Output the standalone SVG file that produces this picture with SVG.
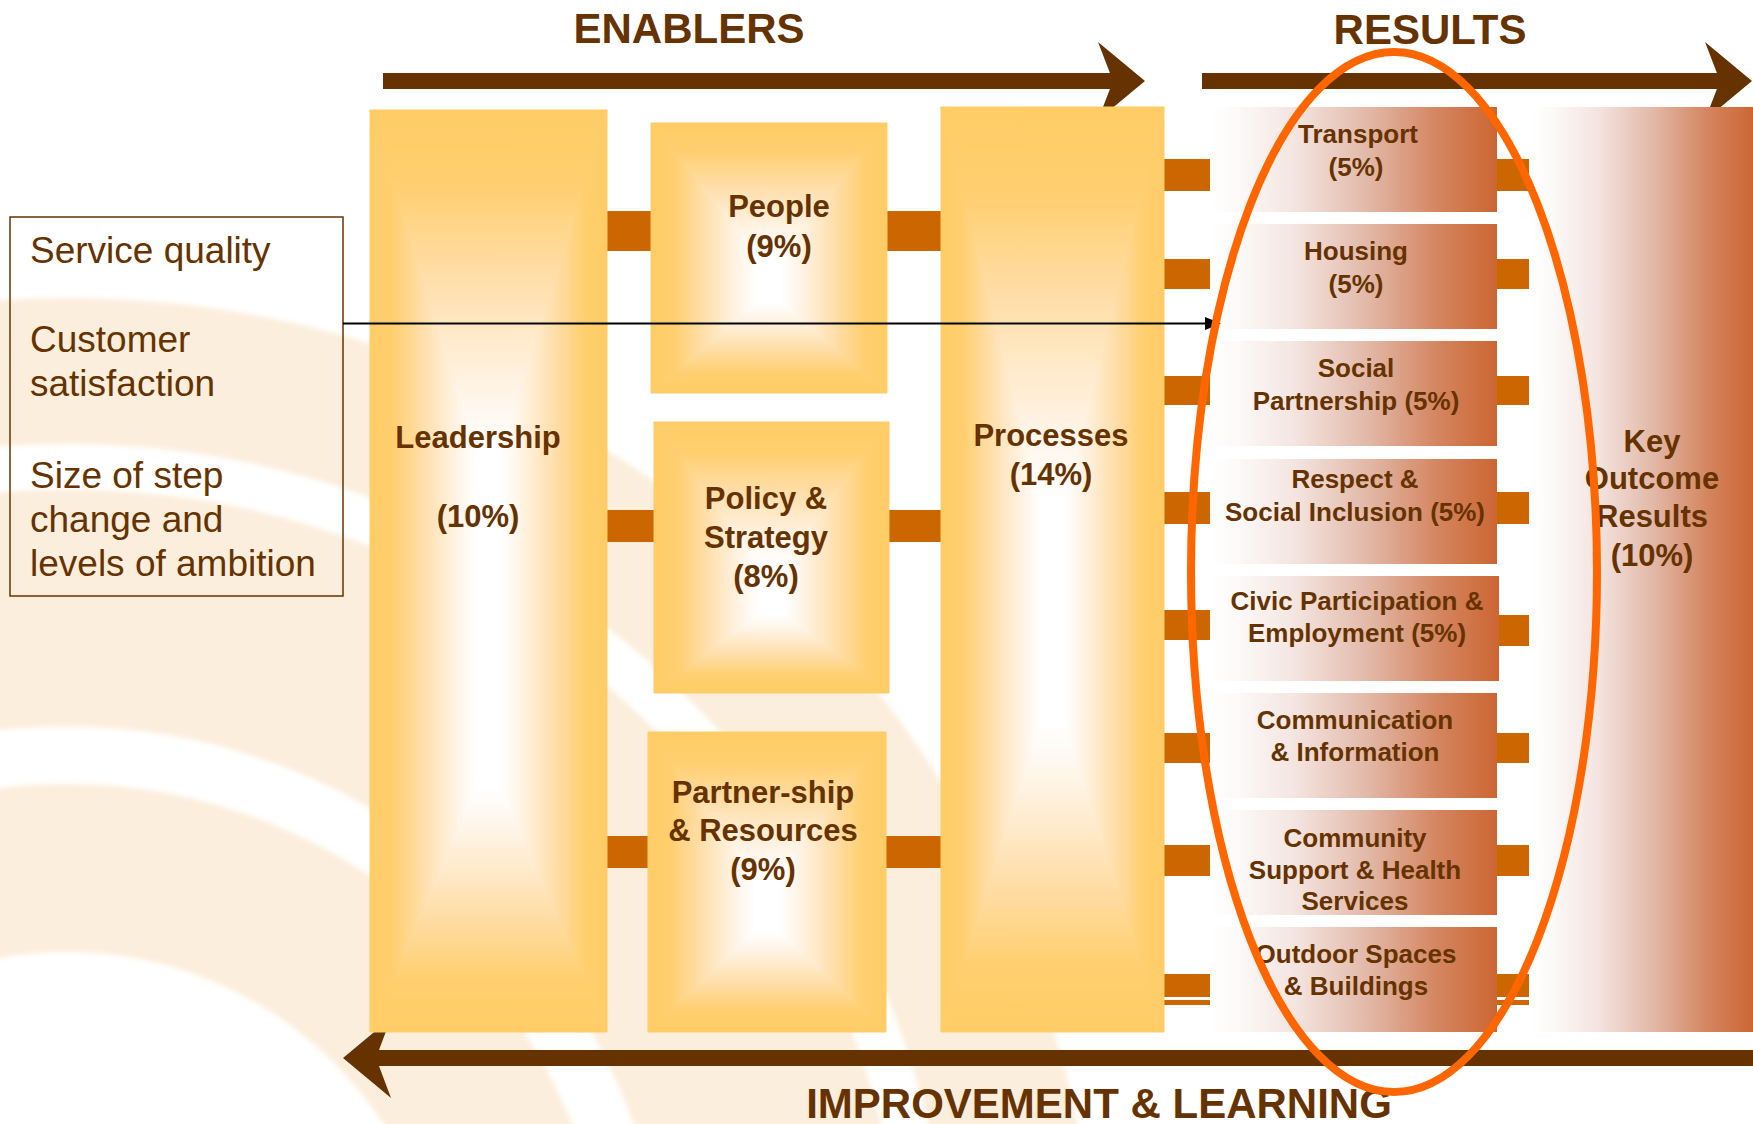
<svg xmlns="http://www.w3.org/2000/svg" width="1753" height="1124" viewBox="0 0 1753 1124">
  <defs>
    <style>
      .lbl { font-family: "Liberation Sans", Arial, sans-serif; font-weight: bold; fill: #663300; text-anchor: middle; }
      .big { font-size: 31px; }
      .res { font-size: 26px; }
      .hdr { font-size: 42px; }
      .note { font-family: "Liberation Sans", Arial, sans-serif; font-size: 37px; fill: #663300; }
      .conn { fill: #CC6600; }
      .bar { fill: #663300; }
      .ring { fill: none; stroke: #FCEEDC; }
    </style>
    <!-- rectangular glow towards a central core, one gradient per facing side -->
    <linearGradient id="gL" x1="0" y1="0" x2="1" y2="0">
      <stop offset="0" stop-color="#FFCC66"/>
      <stop offset="0.2" stop-color="#FFCF70"/>
      <stop offset="0.4" stop-color="#FFDBA0"/>
      <stop offset="0.6" stop-color="#FFEACB"/>
      <stop offset="0.78" stop-color="#FFF7EE"/>
      <stop offset="0.9" stop-color="#FFFFFF"/>
      <stop offset="1" stop-color="#FFFFFF"/>
    </linearGradient>
    <linearGradient id="gR" href="#gL" x1="1" y1="0" x2="0" y2="0"/>
    <linearGradient id="gT" href="#gL" x1="0" y1="0" x2="0" y2="1"/>
    <linearGradient id="gB" href="#gL" x1="0" y1="1" x2="0" y2="0"/>
    <!-- results fill: white fading into copper -->
    <linearGradient id="gRes" x1="0" y1="0" x2="1" y2="0">
      <stop offset="0" stop-color="#FFFFFF"/>
      <stop offset="0.1" stop-color="#FCF9F8"/>
      <stop offset="0.3" stop-color="#F4E4DF"/>
      <stop offset="0.55" stop-color="#E2B8A8"/>
      <stop offset="0.8" stop-color="#D4845E"/>
      <stop offset="1" stop-color="#CC6633"/>
    </linearGradient>
    <filter id="soft" x="-5%" y="-5%" width="110%" height="110%">
      <feGaussianBlur stdDeviation="2.5"/>
    </filter>
  </defs>

  <rect width="1753" height="1124" fill="#FFFFFF"/>

  <!-- watermark rings in the lower left -->
  <g id="background" filter="url(#soft)">
    <circle class="ring" cx="67" cy="1329" r="461" stroke-width="168"/>
    <circle class="ring" cx="67" cy="1329" r="721" stroke-width="237"/>
    <circle class="ring" cx="67" cy="1329" r="958" stroke-width="146"/>
  </g>

  <!-- headings and flow arrows -->
  <g id="headers">
    <text class="lbl hdr" x="689" y="43">ENABLERS</text>
    <text class="lbl hdr" x="1430" y="44">RESULTS</text>
    <text class="lbl hdr" x="1099" y="1118">IMPROVEMENT &amp; LEARNING</text>
  </g>
  <g id="flow-arrows">
    <rect class="bar" x="383" y="73" width="732" height="16"/>
    <polygon class="bar" points="1145,81 1098,42 1113,81 1098,120"/>
    <rect class="bar" x="1202" y="73" width="520" height="16"/>
    <polygon class="bar" points="1752,81 1705,42 1720,81 1705,120"/>
    <rect class="bar" x="374" y="1050" width="1379" height="16"/>
    <polygon class="bar" points="343,1058 391,1018 376,1058 391,1098"/>
  </g>

  <!-- connectors between boxes -->
  <g id="connectors">
    <rect class="conn" x="606" y="211" width="46" height="40"/>
    <rect class="conn" x="886" y="211" width="56" height="40"/>
    <rect class="conn" x="606" y="510" width="49" height="32"/>
    <rect class="conn" x="888" y="510" width="54" height="32"/>
    <rect class="conn" x="606" y="836" width="43" height="32"/>
    <rect class="conn" x="885" y="836" width="57" height="32"/>
    <!-- processes to results -->
    <rect class="conn" x="1163" y="159" width="51" height="32"/>
    <rect class="conn" x="1163" y="259" width="51" height="30"/>
    <rect class="conn" x="1163" y="376" width="51" height="29"/>
    <rect class="conn" x="1163" y="492" width="51" height="32"/>
    <rect class="conn" x="1163" y="610" width="51" height="30"/>
    <rect class="conn" x="1163" y="733" width="51" height="30"/>
    <rect class="conn" x="1163" y="845" width="51" height="31"/>
    <rect class="conn" x="1163" y="974" width="51" height="23"/>
    <rect class="conn" x="1163" y="1000" width="51" height="5"/>
    <!-- results to key outcome -->
    <rect class="conn" x="1496" y="159" width="33" height="32"/>
    <rect class="conn" x="1496" y="259" width="33" height="30"/>
    <rect class="conn" x="1496" y="376" width="33" height="29"/>
    <rect class="conn" x="1496" y="492" width="33" height="32"/>
    <rect class="conn" x="1498" y="615" width="31" height="31"/>
    <rect class="conn" x="1496" y="733" width="33" height="30"/>
    <rect class="conn" x="1496" y="845" width="33" height="31"/>
    <rect class="conn" x="1496" y="974" width="33" height="23"/>
    <rect class="conn" x="1496" y="1000" width="33" height="5"/>
  </g>

  <!-- enabler boxes: side pieces shading from the edge into a white core -->
  <g id="leadership">
    <polygon points="370,110 488.5,490 488.5,760 370,1032" fill="url(#gL)" stroke="url(#gL)" stroke-width="1"/>
    <polygon points="607,110 488.5,490 488.5,760 607,1032" fill="url(#gR)" stroke="url(#gR)" stroke-width="1"/>
    <polygon points="370,110 607,110 488.5,490" fill="url(#gT)" stroke="url(#gT)" stroke-width="1"/>
    <polygon points="370,1032 607,1032 488.5,760" fill="url(#gB)" stroke="url(#gB)" stroke-width="1"/>
    <text class="lbl big" x="478" y="448">Leadership</text>
    <text class="lbl big" x="478" y="527">(10%)</text>
  </g>
  <g id="people">
    <polygon points="651,123 769,268 769,292 651,393" fill="url(#gL)" stroke="url(#gL)" stroke-width="1"/>
    <polygon points="887,123 769,268 769,292 887,393" fill="url(#gR)" stroke="url(#gR)" stroke-width="1"/>
    <polygon points="651,123 887,123 769,268" fill="url(#gT)" stroke="url(#gT)" stroke-width="1"/>
    <polygon points="651,393 887,393 769,292" fill="url(#gB)" stroke="url(#gB)" stroke-width="1"/>
    <text class="lbl big" x="779" y="217">People</text>
    <text class="lbl big" x="779" y="257">(9%)</text>
  </g>
  <g id="policy-strategy">
    <polygon points="654,422 771.5,580 771.5,605 654,693" fill="url(#gL)" stroke="url(#gL)" stroke-width="1"/>
    <polygon points="889,422 771.5,580 771.5,605 889,693" fill="url(#gR)" stroke="url(#gR)" stroke-width="1"/>
    <polygon points="654,422 889,422 771.5,580" fill="url(#gT)" stroke="url(#gT)" stroke-width="1"/>
    <polygon points="654,693 889,693 771.5,605" fill="url(#gB)" stroke="url(#gB)" stroke-width="1"/>
    <text class="lbl big" x="766" y="509">Policy &amp;</text>
    <text class="lbl big" x="766" y="548">Strategy</text>
    <text class="lbl big" x="766" y="587">(8%)</text>
  </g>
  <g id="partnership-resources">
    <polygon points="648,732 767,890 767,920 648,1032" fill="url(#gL)" stroke="url(#gL)" stroke-width="1"/>
    <polygon points="886,732 767,890 767,920 886,1032" fill="url(#gR)" stroke="url(#gR)" stroke-width="1"/>
    <polygon points="648,732 886,732 767,890" fill="url(#gT)" stroke="url(#gT)" stroke-width="1"/>
    <polygon points="648,1032 886,1032 767,920" fill="url(#gB)" stroke="url(#gB)" stroke-width="1"/>
    <text class="lbl big" x="763" y="803">Partner-ship</text>
    <text class="lbl big" x="763" y="841">&amp; Resources</text>
    <text class="lbl big" x="763" y="880">(9%)</text>
  </g>
  <g id="processes">
    <polygon points="941,107 1052.5,545 1052.5,690 941,1032" fill="url(#gL)" stroke="url(#gL)" stroke-width="1"/>
    <polygon points="1164,107 1052.5,545 1052.5,690 1164,1032" fill="url(#gR)" stroke="url(#gR)" stroke-width="1"/>
    <polygon points="941,107 1164,107 1052.5,545" fill="url(#gT)" stroke="url(#gT)" stroke-width="1"/>
    <polygon points="941,1032 1164,1032 1052.5,690" fill="url(#gB)" stroke="url(#gB)" stroke-width="1"/>
    <text class="lbl big" x="1051" y="446">Processes</text>
    <text class="lbl big" x="1051" y="485">(14%)</text>
  </g>

  <!-- result boxes -->
  <g id="transport">
    <rect x="1210" y="107" width="287" height="105" fill="url(#gRes)"/>
    <text class="lbl res" x="1358" y="143">Transport</text>
    <text class="lbl res" x="1356" y="176">(5%)</text>
  </g>
  <g id="housing">
    <rect x="1210" y="224" width="287" height="105" fill="url(#gRes)"/>
    <text class="lbl res" x="1356" y="260">Housing</text>
    <text class="lbl res" x="1356" y="293">(5%)</text>
  </g>
  <g id="social-partnership">
    <rect x="1210" y="341" width="287" height="105" fill="url(#gRes)"/>
    <text class="lbl res" x="1356" y="377">Social</text>
    <text class="lbl res" x="1356" y="410">Partnership (5%)</text>
  </g>
  <g id="respect-inclusion">
    <rect x="1210" y="459" width="287" height="105" fill="url(#gRes)"/>
    <text class="lbl res" x="1355" y="488">Respect &amp;</text>
    <text class="lbl res" x="1355" y="521">Social Inclusion (5%)</text>
  </g>
  <g id="civic-participation">
    <rect x="1210" y="576" width="289" height="105" fill="url(#gRes)"/>
    <text class="lbl res" x="1357" y="610">Civic Participation &amp;</text>
    <text class="lbl res" x="1357" y="642">Employment (5%)</text>
  </g>
  <g id="communication">
    <rect x="1210" y="693" width="287" height="105" fill="url(#gRes)"/>
    <text class="lbl res" x="1355" y="729">Communication</text>
    <text class="lbl res" x="1355" y="761">&amp; Information</text>
  </g>
  <g id="community-support">
    <rect x="1210" y="810" width="287" height="105" fill="url(#gRes)"/>
    <text class="lbl res" x="1355" y="847">Community</text>
    <text class="lbl res" x="1355" y="879">Support &amp; Health</text>
    <text class="lbl res" x="1355" y="910">Services</text>
  </g>
  <g id="outdoor-spaces">
    <rect x="1210" y="927" width="287" height="105" fill="url(#gRes)"/>
    <text class="lbl res" x="1356" y="963">Outdoor Spaces</text>
    <text class="lbl res" x="1356" y="995">&amp; Buildings</text>
  </g>
  <g id="key-outcome">
    <rect x="1531" y="107" width="222" height="925" fill="url(#gRes)"/>
    <text class="lbl big" x="1652" y="452">Key</text>
    <text class="lbl big" x="1652" y="489">Outcome</text>
    <text class="lbl big" x="1652" y="527">Results</text>
    <text class="lbl big" x="1652" y="566">(10%)</text>
  </g>

  <!-- criteria note with pointer into the results -->
  <g id="criteria-note">
    <rect x="10" y="217" width="333" height="379" fill="none" stroke="#663300" stroke-width="1.5"/>
    <text class="note" x="30" y="263">Service quality</text>
    <text class="note" x="30" y="352">Customer</text>
    <text class="note" x="30" y="396">satisfaction</text>
    <text class="note" x="30" y="488">Size of step</text>
    <text class="note" x="30" y="532">change and</text>
    <text class="note" x="30" y="576">levels of ambition</text>
  </g>
  <g id="pointer">
    <line x1="343" y1="323.5" x2="1208" y2="323.5" stroke="#000000" stroke-width="2"/>
    <polygon points="1205,317 1221,323.5 1205,330" fill="#000000"/>
  </g>

  <!-- highlight round the result criteria -->
  <g id="highlight">
    <ellipse cx="1394" cy="572" rx="203" ry="520" fill="none" stroke="#FF6600" stroke-width="8"/>
  </g>
</svg>
